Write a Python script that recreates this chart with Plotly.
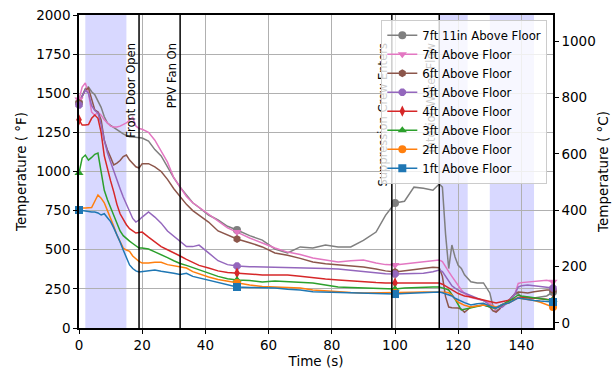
import plotly.graph_objects as go

time_s = [0, 1, 2, 3, 4, 5, 6, 7, 8, 9, 10, 11, 12, 13, 14, 15, 16, 17, 18, 19, 20,
          22, 24, 26, 28, 30, 32, 34, 36, 38, 41, 44, 47, 50,
          54, 58, 62, 66, 70, 74, 78, 82, 86, 90, 94, 97, 100, 103, 106, 109, 112,
          114, 115, 116, 117, 118, 119, 120, 121, 122, 124, 126, 128, 130,
          131, 132, 133, 134, 136, 138, 139, 140, 142, 144, 146, 148, 150]

t_7ft11in = [1440, 1480, 1530, 1540, 1510, 1490, 1450, 1410, 1350, 1310, 1295, 1280, 1265, 1255, 1240, 1230, 1222, 1220, 1218, 1215, 1214,
             1195, 1140, 1100, 1030, 960, 900, 850, 800, 770, 722, 690, 650, 626,
             590, 562, 505, 480, 518, 511, 530, 518, 518, 560, 613, 720, 799, 810, 900, 893, 880,
             920, 900, 600, 380, 530, 454, 400, 380, 340, 295, 288, 288, 224,
             140, 110, 120, 140, 180, 215, 220, 200, 185, 190, 198, 205, 230]
t_7ft = [1460, 1540, 1565, 1500, 1380, 1360, 1380, 1360, 1330, 1310, 1290, 1284, 1284, 1290, 1300, 1310, 1330, 1345, 1290, 1275, 1270,
         1250, 1200, 1130, 1060, 960, 900, 840, 800, 770, 730, 680, 640, 613,
         575, 543, 511, 485, 470, 447, 435, 422, 430, 434, 415, 405, 403, 410, 418, 425, 432,
         434, 425, 390, 360, 330, 300, 265, 243, 220, 195, 185, 175, 160,
         140, 102, 120, 145, 175, 220, 285, 290, 294, 300, 305, 305, 295]
t_6ft = [1438, 1480, 1520, 1533, 1460, 1393, 1380, 1330, 1200, 1137, 1090, 1042, 1054, 1070, 1095, 1105, 1073, 1050, 1030, 1022, 1050,
         1050, 1030, 1000, 950, 890, 840, 790, 750, 720, 677, 620, 595, 569,
         545, 518, 479, 465, 445, 422, 410, 403, 398, 390, 377, 365, 358, 365, 375, 380, 388,
         385, 330, 200, 134, 130, 128, 128, 120, 100, 134, 140, 147, 134,
         110, 102, 120, 145, 175, 220, 230, 228, 224, 232, 238, 243, 243]
t_5ft = [1425, 1480, 1520, 1500, 1420, 1390, 1374, 1300, 1200, 1120, 1060, 1000, 950, 890, 837, 790, 735, 700, 677, 690, 709,
         741, 709, 670, 620, 585, 555, 520, 520, 530, 480, 430, 405, 396,
         392, 390, 390, 390, 388, 383, 380, 377, 368, 358, 350, 346, 345, 346, 348, 350, 360,
         371, 360, 330, 300, 270, 255, 240, 230, 224, 205, 190, 175, 150,
         134, 130, 134, 134, 170, 220, 262, 270, 275, 270, 262, 258, 256]
t_4ft = [1330, 1297, 1297, 1300, 1340, 1361, 1340, 1250, 1100, 1010, 940, 870, 790, 730, 690, 660, 635, 620, 607, 610, 613,
         581, 550, 520, 500, 482, 460, 438, 420, 400, 383, 365, 355, 351,
         345, 339, 339, 339, 330, 320, 313, 307, 300, 294, 290, 288, 288, 290, 288, 287, 288,
         288, 280, 268, 258, 245, 230, 220, 212, 205, 198, 188, 179, 170,
         165, 160, 165, 170, 178, 185, 195, 198, 195, 190, 185, 180, 179]
t_3ft = [990, 1086, 1105, 1073, 1090, 1110, 1118, 1000, 880, 820, 770, 720, 660, 620, 590, 570, 555, 540, 525, 511, 511,
         505, 486, 470, 450, 430, 412, 400, 385, 370, 351, 330, 315, 307,
         303, 294, 300, 295, 292, 288, 275, 262, 258, 256, 252, 250, 249, 255, 258, 262, 262,
         262, 258, 250, 243, 215, 185, 150, 115, 120, 128, 138, 147, 135,
         128, 128, 140, 150, 170, 200, 211, 205, 198, 195, 188, 182, 179]
t_2ft = [754, 767, 767, 767, 770, 810, 850, 830, 800, 750, 703, 650, 594, 550, 510, 498, 490, 460, 440, 425, 415,
         415, 420, 420, 405, 398, 390, 383, 360, 345, 326, 310, 298, 288,
         275, 265, 262, 262, 255, 243, 237, 230, 227, 224, 224, 224, 224, 226, 228, 230, 230,
         230, 230, 228, 225, 210, 185, 165, 155, 145, 134, 140, 147, 145,
         140, 135, 140, 150, 160, 180, 192, 188, 182, 175, 165, 150, 134]
t_1ft = [754, 750, 745, 741, 741, 741, 735, 722, 730, 705, 680, 640, 600, 550, 498, 450, 403, 380, 365, 358, 360,
         368, 370, 362, 358, 350, 342, 350, 330, 320, 307, 290, 275, 262,
         259, 256, 256, 248, 243, 232, 230, 230, 226, 224, 220, 218, 217, 220, 222, 224, 226,
         230, 225, 218, 213, 205, 190, 180, 172, 162, 147, 155, 158, 140,
         132, 128, 140, 150, 160, 180, 192, 188, 180, 176, 172, 168, 166]

series_names = ["7ft 11in Above Floor", "7ft Above Floor", "6ft Above Floor", "5ft Above Floor",
                "4ft Above Floor", "3ft Above Floor", "2ft Above Floor", "1ft Above Floor"]
series_values = [t_7ft11in, t_7ft, t_6ft, t_5ft, t_4ft, t_3ft, t_2ft, t_1ft]
series_colors = ["#7f7f7f", "#e377c2", "#8c564b", "#9467bd", "#d62728", "#2ca02c", "#ff7f0e", "#1f77b4"]
series_symbols = ["circle", "triangle-down", "hexagon", "octagon", "diamond-tall", "triangle-up", "circle", "square"]
marker_times = [0, 50, 100, 150]

event_times = [19, 32, 99, 114]
event_labels = ["Front Door Open", "PPV Fan On", "Suppression Crew Enters", "Interior Water Flow"]
label_top_F = 1808
shade_spans = [(2, 15), (114, 123), (130, 144)]

fig = go.Figure()

# lines (no legend)
for name, vals, col in zip(series_names, series_values, series_colors):
    assert len(vals) == len(time_s)
    fig.add_trace(go.Scatter(x=time_s, y=vals, mode="lines", legendgroup=name,
                             line=dict(color=col, width=1.5), showlegend=False))

# markers every 50 s
for name, vals, col, sym in zip(series_names, series_values, series_colors, series_symbols):
    mx = [t for t in time_s if t in marker_times]
    my = [v for t, v in zip(time_s, vals) if t in marker_times]
    fig.add_trace(go.Scatter(x=mx, y=my, mode="markers", legendgroup=name, showlegend=False,
                             marker=dict(color=col, symbol=sym, size=8, line=dict(width=0)),
                             cliponaxis=False))

# legend entries
for name, col, sym in zip(series_names, series_colors, series_symbols):
    fig.add_trace(go.Scatter(x=[None], y=[None], mode="lines+markers", name=name, legendgroup=name,
                             line=dict(color=col, width=1.5),
                             marker=dict(color=col, symbol=sym, size=8, line=dict(width=0))))

# invisible trace to activate secondary axis
fig.add_trace(go.Scatter(x=[0], y=[0], yaxis="y2", mode="markers",
                         marker=dict(opacity=0), showlegend=False, hoverinfo="skip"))

for a, b in shade_spans:
    fig.add_vrect(x0=a, x1=b, fillcolor="rgb(216,216,255)", opacity=1, line_width=0, layer="below")

for t, lab in zip(event_times, event_labels):
    fig.add_shape(type="line", x0=t, x1=t, y0=0, y1=1, yref="paper", xref="x",
                  line=dict(color="black", width=1.5), layer="above")
    # label carried by an invisible line so that the legend is drawn over it
    fig.add_shape(type="line", x0=t, x1=t, y0=0, y1=label_top_F, yref="y", xref="x",
                  line=dict(color="rgba(0,0,0,0)", width=0), layer="above",
                  label=dict(text=lab, textangle=-90, textposition="end",
                             xanchor="right", yanchor="bottom", padding=2,
                             font=dict(family="DejaVu Sans", size=11.5, color="black")))

fmin, fmax = 0, 2000
axis_common = dict(showline=True, linecolor="black", linewidth=1.5, ticks="outside",
                   ticklen=4, tickcolor="black", zeroline=False, automargin=False,
                   tickfont=dict(size=13.5), title_font=dict(size=13.5))
fig.update_layout(
    width=613, height=370,
    margin=dict(l=79, r=60, t=15, b=42),
    plot_bgcolor="white", paper_bgcolor="white",
    font=dict(family="DejaVu Sans", size=13.5, color="black"),
    showlegend=True,
    legend=dict(x=0.988, y=0.985, xanchor="right", yanchor="top",
                bgcolor="rgba(255,255,255,0.8)", bordercolor="#cccccc", borderwidth=1,
                font=dict(size=11.7), tracegroupgap=0),
    xaxis=dict(range=[0, 150], dtick=20, showgrid=True, gridcolor="#b0b0b0", gridwidth=1,
               mirror=True, title=dict(text="Time (s)", standoff=2), **axis_common),
    yaxis=dict(range=[fmin, fmax], dtick=250, showgrid=True, gridcolor="#b0b0b0", gridwidth=1,
               title=dict(text="Temperature ( °F)", standoff=6), **axis_common),
    yaxis2=dict(overlaying="y", side="right",
                range=[(fmin - 32) * 5 / 9, (fmax - 32) * 5 / 9],
                tickvals=[0, 200, 400, 600, 800, 1000], showgrid=False,
                title=dict(text="Temperature ( °C)", standoff=4), **axis_common),
)

fig.write_html("out.html", config={"displayModeBar": False},
               post_script="document.body.style.margin='0px';")
